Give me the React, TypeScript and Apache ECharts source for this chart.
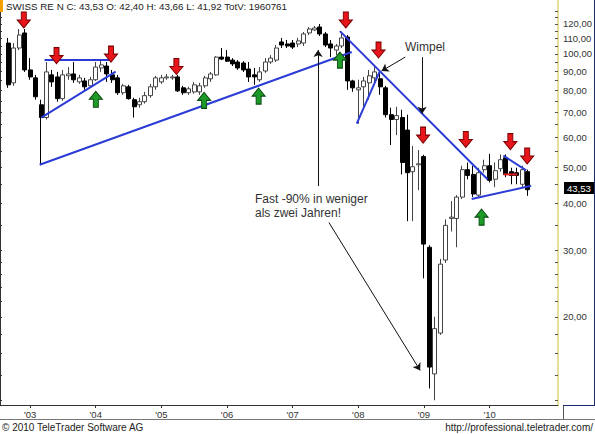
import React, { useEffect, useRef } from "react";
import * as echarts from "echarts";

// Monthly candles, Sep 2002 .. Aug 2010 (CHF)
const opens = [
  106.8, 83.7, 103.6, 113.6, 90.6, 86.3, 73.2, 67.7, 87.9, 86.8, 76.0, 87.4, 88.4, 84.2, 84.7, 82.2,
  85.3, 91.7, 92.8, 87.9, 86.3, 78.8, 81.7, 75.5, 73.2, 74.6, 77.4, 81.7,
  84.2, 86.3, 86.3, 86.8, 81.2, 78.8, 79.2, 79.2, 82.2, 85.8, 87.9, 98.0,
  98.0, 96.2, 95.1, 94.5, 91.1, 87.9, 85.3, 90.0, 95.1, 96.2, 107.5, 106.2,
  106.8, 106.2, 106.8, 113.6, 115.7, 117.8, 112.9, 106.2, 102.3, 104.9, 110.8, 84.7,
  80.2, 81.7, 83.7, 86.3, 85.8, 81.2, 68.9, 66.9, 67.7, 62.7, 48.6, 50.7,
  53.3, 30.6, 14.1, 18.1, 28.3, 36.5, 36.5, 41.6, 49.2, 47.8, 42.1, 49.2,
  50.4, 46.4, 49.5, 52.9, 48.6, 48.3, 45.0, 48.6,
];
const closes = [
  82.7, 103.6, 112.2, 90.6, 86.8, 76.9, 67.7, 89.5, 84.2, 76.0, 87.9, 88.4, 85.3, 86.3, 81.7, 85.3,
  92.2, 93.4, 88.4, 85.3, 78.8, 82.2, 76.0, 72.3, 74.6, 77.4, 81.7, 86.3,
  86.3, 86.8, 86.8, 79.7, 78.8, 80.7, 82.7, 82.2, 86.3, 88.4, 98.0, 96.8,
  95.6, 94.0, 91.7, 90.6, 86.8, 86.8, 89.5, 95.1, 97.4, 103.6, 105.5, 104.9,
  104.2, 108.2, 112.9, 116.4, 117.1, 112.9, 105.5, 103.6, 104.9, 110.2, 84.7, 81.2,
  81.2, 84.7, 87.4, 89.5, 81.7, 68.9, 66.9, 68.5, 51.4, 48.3, 50.1, 51.0,
  31.2, 14.7, 18.6, 27.6, 35.0, 36.8, 41.6, 49.2, 47.5, 42.4, 48.3, 50.4,
  46.1, 48.9, 52.3, 47.8, 47.5, 47.5, 49.2, 43.53,
];
const lows = [
  81.2, 82.2, 102.3, 89.5, 85.3, 75.5, 50.7, 66.9, 81.7, 74.6, 75.0, 85.3, 83.7, 83.2, 80.2, 81.2,
  84.7, 89.5, 84.2, 83.7, 77.8, 77.8, 75.5, 67.7, 71.9, 73.7, 76.4, 80.2,
  83.2, 85.3, 85.3, 79.2, 77.8, 77.8, 78.3, 77.8, 81.2, 84.2, 87.4, 96.2,
  95.1, 92.8, 90.6, 89.5, 84.2, 82.7, 84.2, 89.0, 94.0, 95.1, 103.6, 103.6,
  103.0, 104.2, 104.9, 112.2, 115.0, 111.5, 104.2, 98.0, 99.2, 103.6, 80.2, 79.2,
  65.2, 72.3, 75.5, 83.2, 77.8, 67.7, 57.2, 60.8, 47.8, 35.9, 35.9, 43.4,
  25.3, 12.9, 12.0, 17.9, 27.8, 33.7, 30.6, 41.1, 46.4, 41.6, 41.6, 48.3,
  45.5, 44.2, 48.6, 47.0, 45.0, 45.0, 44.2, 41.92,
];
const highs = [
  110.2, 106.8, 116.4, 116.4, 97.4, 87.9, 75.5, 95.1, 90.6, 89.5, 90.6, 92.2, 95.1, 87.9, 86.3, 86.8,
  95.1, 96.2, 95.1, 90.6, 87.9, 83.2, 82.7, 76.4, 76.4, 79.2, 83.2, 87.4,
  87.9, 88.4, 87.9, 87.9, 82.2, 81.7, 84.2, 83.7, 87.4, 89.5, 98.6, 103.6,
  102.3, 97.4, 96.2, 95.6, 95.1, 91.7, 92.2, 97.4, 99.2, 105.5, 110.2, 108.8,
  108.8, 110.2, 114.3, 117.8, 118.5, 120.0, 114.3, 108.8, 106.2, 113.6, 112.2, 85.3,
  85.3, 86.8, 90.6, 93.4, 89.5, 82.2, 71.9, 72.3, 71.0, 68.9, 56.9, 55.5,
  53.9, 31.0, 20.0, 28.5, 36.3, 40.6, 42.1, 50.4, 51.4, 50.4, 49.8, 52.3,
  54.2, 51.4, 54.0, 54.0, 49.8, 49.8, 50.4, 49.2,
];

const yLabelValues = [20, 30, 40, 50, 60, 70, 80, 90, 100, 110, 120];
const yTickValues = [
  12, 14, 16, 18, 20, 22, 24, 26, 28, 30, 35, 40, 45, 50, 55, 60, 65, 70, 75, 80, 85, 90, 95, 100,
  105, 110, 115, 120, 125, 130,
];
const yearLabels = ["'03", "'04", "'05", "'06", "'07", "'08", "'09", "'10"];

// annotations: [monthIndex (0 = Jan 2003), price]
const redArrows = [
  [-1.15, 123.0], [4.83, 98.9], [14.79, 99.8], [26.75, 92.5], [57.72, 123.0],
  [63.7, 102.3], [71.85, 60.8], [79.65, 59.2], [87.8, 58.4], [90.88, 53.5],
];
const greenArrows = [
  [12.02, 75.7], [31.82, 75.2], [41.78, 77.2], [56.64, 96.2], [82.54, 36.8],
];
const blueLines = [
  [[2.65, 96.2], [14.43, 96.2]],
  [[2.05, 67.7], [15.64, 89.7]],
  [[1.75, 50.7], [58.81, 101.1]],
  [[56.64, 114.9], [83.63, 46.4]],
  [[59.72, 65.2], [63.88, 89.5]],
  [[80.73, 41.1], [91.6, 44.6]],
  [[86.53, 53.6], [90.7, 49.0]],
];
const redLines = [[[86.53, 47.8], [89.07, 47.8]]];
const pointerLines = [
  [[52.65, 44.5], [52.65, 102.3]],
  [[54.64, 35.6], [71.31, 14.4]],
  [[68.59, 98.0], [64.25, 90.0]],
  [[71.67, 98.0], [71.67, 69.3]],
];

const N = 102; // Aug 2002 .. Jan 2011
const FIRST = 1; // category index of Sep 2002

const downArrow = "path://M4,0 L9,0 L9,8 L13,8 L6.5,16 L0,8 L4,8 Z";
const upArrow = "path://M6.5,0 L13,8 L9,8 L9,16 L4,16 L4,8 L0,8 Z";

export default function App() {
  const ref = useRef<HTMLDivElement>(null);
  useEffect(() => {
    if (!ref.current) return;
    const chart = echarts.init(ref.current, null, { renderer: "svg" });
    const cats: string[] = [];
    for (let i = 0; i < N; i++) {
      const m = i - 5;
      const y = 2003 + Math.floor(m / 12);
      const mo = (((m % 12) + 12) % 12) + 1;
      cats.push(`${y}-${String(mo).padStart(2, "0")}`);
    }
    const candles: any[] = cats.map((_, i) => {
      const k = i - FIRST;
      if (k < 0 || k >= opens.length) return "-";
      return [Math.log(opens[k]), Math.log(closes[k]), Math.log(lows[k]), Math.log(highs[k])];
    });
    const yearOf = (v: string) => "'" + v.slice(2, 4);
    const isYear = (_: number, v: string) => v.endsWith("-01") && yearLabels.includes(yearOf(v));
    const L = (p: number) => Math.log(p);
    const yMin = 2.45579;
    const yMax = 4.93437;

    const series: any[] = [
      {
        type: "candlestick",
        xAxisIndex: 0,
        yAxisIndex: 0,
        data: candles,
        barWidth: 4.5,
        silent: true,
        itemStyle: {
          color: "#ffffff",
          color0: "#000000",
          borderColor: "#444444",
          borderColor0: "#000000",
          borderWidth: 1,
        },
      },
    ];
    blueLines.forEach((seg) =>
      series.push({
        type: "line",
        xAxisIndex: 1,
        yAxisIndex: 0,
        data: seg.map((p) => [p[0], L(p[1])]),
        symbol: "none",
        silent: true,
        z: 4,
        lineStyle: { color: "#2b3bd6", width: 2 },
      })
    );
    redLines.forEach((seg) =>
      series.push({
        type: "line",
        xAxisIndex: 1,
        yAxisIndex: 0,
        data: seg.map((p) => [p[0], L(p[1])]),
        symbol: "none",
        silent: true,
        z: 4,
        lineStyle: { color: "#e02020", width: 2 },
      })
    );
    series.push({
      type: "scatter",
      xAxisIndex: 1,
      yAxisIndex: 0,
      data: redArrows.map((p) => [p[0], L(p[1])]),
      symbol: downArrow,
      symbolSize: [13, 16],
      silent: true,
      z: 5,
      itemStyle: { color: "#e8161b", borderColor: "#7a0000", borderWidth: 1, opacity: 1 },
      markLine: {
        silent: true,
        symbol: ["none", "arrow"],
        symbolSize: 7,
        label: { show: false },
        lineStyle: { color: "#111", width: 1, type: "solid" },
        data: pointerLines.map((seg) => [
          { coord: [seg[0][0], L(seg[0][1])] },
          { coord: [seg[1][0], L(seg[1][1])] },
        ]),
      },
    });
    series.push({
      type: "scatter",
      xAxisIndex: 1,
      yAxisIndex: 0,
      data: greenArrows.map((p) => [p[0], L(p[1])]),
      symbol: upArrow,
      symbolSize: [13, 16],
      silent: true,
      z: 5,
      itemStyle: { color: "#1e9a28", borderColor: "#0a4a10", borderWidth: 1, opacity: 1 },
    });

    const font = "Liberation Sans, Arial, sans-serif";
    chart.setOption({
      animation: false,
      backgroundColor: "#ffffff",
      grid: { left: 0, right: 32, top: 0, bottom: 29, containLabel: false },
      xAxis: [
        {
          type: "category",
          data: cats,
          boundaryGap: true,
          axisLine: { show: true, onZero: false, lineStyle: { color: "#333", width: 1 } },
          axisTick: { show: true, alignWithLabel: true, interval: isYear, length: 3, lineStyle: { color: "#333" } },
          axisLabel: {
            interval: isYear,
            formatter: (v: string) => (yearLabels.includes(yearOf(v)) ? yearOf(v) : ""),
            fontSize: 9.5,
            fontFamily: font,
            color: "#333",
            margin: 4,
          },
          splitLine: { show: false },
        },
        { type: "value", min: -5.5, max: 96.5, show: false },
      ],
      yAxis: [
        {
          type: "value",
          position: "right",
          min: yMin,
          max: yMax,
          scale: true,
          splitLine: { show: false },
          axisLine: { show: true, onZero: false, lineStyle: { color: "#e2d470", width: 1.5 } },
          axisTick: {
            show: true,
            customValues: yTickValues.map(L),
            length: 3,
            inside: true,
            lineStyle: { color: "#555" },
          },
          axisLabel: {
            customValues: yLabelValues.map(L),
            formatter: (v: number) => Math.round(Math.exp(v)) + ",00",
            fontSize: 9.5,
            fontFamily: font,
            color: "#333",
            margin: 5,
          },
        },
        {
          type: "value",
          position: "left",
          min: yMin,
          max: yMax,
          scale: true,
          splitLine: { show: false },
          axisLine: { show: true, onZero: false, lineStyle: { color: "#333", width: 1 } },
          axisTick: {
            show: true,
            customValues: yTickValues.map(L),
            length: 2,
            inside: true,
            lineStyle: { color: "#333" },
          },
          axisLabel: { show: false },
        },
      ],
      series,
      graphic: [
        { type: "rect", shape: { x: 0, y: 0, width: 3, height: 12 }, style: { fill: "#f4a000" }, z: 100 },
        {
          type: "text",
          x: 6,
          y: 6,
          style: {
            text: "SWISS RE N C: 43,53 O: 42,40 H: 43,66 L: 41,92 TotV: 1960761",
            fontSize: 9.8,
            fontFamily: font,
            fill: "#222",
            verticalAlign: "middle",
          },
          z: 100,
        },
        {
          type: "text",
          x: 405,
          y: 47,
          style: { text: "Wimpel", fontSize: 12, fontFamily: font, fill: "#333", verticalAlign: "middle" },
          z: 100,
        },
        {
          type: "text",
          x: 255,
          y: 199,
          style: { text: "Fast -90% in weniger", fontSize: 12, fontFamily: font, fill: "#333", verticalAlign: "middle" },
          z: 100,
        },
        {
          type: "text",
          x: 255,
          y: 213,
          style: { text: "als zwei Jahren!", fontSize: 12, fontFamily: font, fill: "#333", verticalAlign: "middle" },
          z: 100,
        },
        { type: "rect", shape: { x: 564, y: 182, width: 31, height: 12 }, style: { fill: "#000" }, z: 100 },
        {
          type: "text",
          x: 567,
          y: 188,
          style: { text: "43,53", fontSize: 9.5, fontFamily: font, fill: "#fff", verticalAlign: "middle" },
          z: 101,
        },
        { type: "line", shape: { x1: 594.5, y1: 0, x2: 594.5, y2: 405 }, style: { stroke: "#1c2a6e", lineWidth: 1 }, z: 100 },
        { type: "line", shape: { x1: 0, y1: 419.5, x2: 595, y2: 419.5 }, style: { stroke: "#777", lineWidth: 1 }, z: 100 },
        { type: "line", shape: { x1: 563.5, y1: 405, x2: 563.5, y2: 419 }, style: { stroke: "#555", lineWidth: 1 }, z: 100 },
        { type: "line", shape: { x1: 563, y1: 405.5, x2: 595, y2: 405.5 }, style: { stroke: "#1c2a6e", lineWidth: 1 }, z: 100 },
        {
          type: "text",
          x: 2,
          y: 427,
          style: { text: "© 2010 TeleTrader Software AG", fontSize: 10, fontFamily: font, fill: "#222", verticalAlign: "middle" },
          z: 100,
        },
        {
          type: "text",
          x: 593,
          y: 427,
          style: {
            text: "http://professional.teletrader.com/",
            fontSize: 10,
            fontFamily: font,
            fill: "#222",
            align: "right",
            verticalAlign: "middle",
          },
          z: 100,
        },
      ],
    });
    return () => chart.dispose();
  }, []);
  return (
    <div
      ref={ref}
      style={{ position: "absolute", left: 0, top: 0, width: 595, height: 434, background: "#fff" }}
    />
  );
}
